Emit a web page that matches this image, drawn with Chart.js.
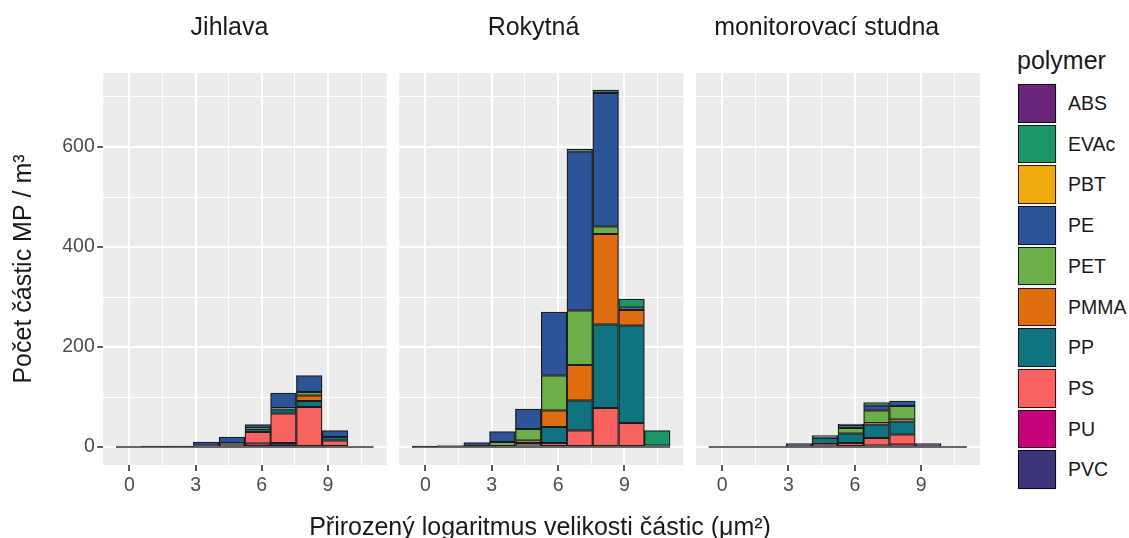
<!DOCTYPE html>
<html>
<head>
<meta charset="utf-8">
<script src="https://cdn.jsdelivr.net/npm/chart.js@4.4.1/dist/chart.umd.min.js"></script>
<style>
  html, body { margin: 0; padding: 0; background: #fff; }
  body { width: 1129px; height: 538px; position: relative; overflow: hidden;
         font-family: "Liberation Sans", Arial, sans-serif; color: #1a1a1a; }
  canvas { position: absolute; top: 0; }
  .txt { position: absolute; white-space: nowrap; font-size: 25px; line-height: 28px; }
  .strip { transform: translateX(-50%); }
  #keys { position: absolute; left: 1016.7px; top: 83px; width: 40px; height: 407px; background: #f2f2f2; }
  .key { position: absolute; left: 1px; width: 38px; height: 38.7px; box-sizing: border-box;
         border: 1px solid rgba(0,0,0,0.8); }
  .lab { position: absolute; left: 1068px; font-size: 19.5px; line-height: 38.7px; height: 38.7px; }
</style>
</head>
<body>
<canvas id="c1" width="395" height="538" style="left:0px"></canvas>
<canvas id="c2" width="300" height="538" style="left:390px"></canvas>
<canvas id="c3" width="300" height="538" style="left:686px"></canvas>

<div class="txt strip" style="left:229.5px;top:12.3px">Jihlava</div>
<div class="txt strip" style="left:533.5px;top:12.3px">Rokytná</div>
<div class="txt strip" style="left:826.7px;top:12.3px">monitorovací studna</div>
<div class="txt strip" style="left:540px;top:512.3px">Přirozený logaritmus velikosti částic (μm²)</div>

<div class="txt" style="left:1017px;top:45.5px">polymer</div>
<div id="keys"></div>
<div id="labels"></div>

<script>
// legend order (top of stack first, as in ggplot)
const polymers = ['ABS', 'EVAc', 'PBT', 'PE', 'PET', 'PMMA', 'PP', 'PS', 'PU', 'PVC'];
const colors = ['#6a247a', '#1b9668', '#eeaa0d', '#2b5499', '#6caf48', '#de6e10', '#0f7480', '#f8635f', '#c4007a', '#3b357c'];

// histogram bin centres, ln of particle size (um^2)
const binCenters = [-0.02, 1.15, 2.32, 3.48, 4.65, 5.82, 6.98, 8.15, 9.32, 10.48];
const xTicks = [0, 1.5, 3, 4.5, 6, 7.5, 9, 10.5];
const yTicks = [0, 100, 200, 300, 400, 500, 600, 700];

// counts per bin, particles / m3
const jihlava = {
  PE:   [0, 1, 1, 7, 12, 7, 30, 33, 13, 0],
  PET:  [0, 0, 0, 0, 0, 2, 3, 7, 0, 0],
  PMMA: [0, 0, 0, 0, 0, 0, 0, 11, 0, 0],
  PP:   [0, 0, 0, 0, 2, 6, 8, 12, 7, 0],
  PS:   [0, 0, 0, 0, 4, 23, 59, 80, 13, 0],
  PU:   [0, 0, 0, 0, 0, 7, 0, 0, 0, 0],
  PVC:  [0, 0, 0, 3, 2, 0, 8, 0, 0, 0]
};
const rokytna = {
  EVAc: [0, 0, 0, 0, 0, 0, 5, 6, 17, 30],
  PE:   [0, 0, 7, 21, 40, 127, 318, 267, 5, 0],
  PET:  [0, 0, 0, 10, 23, 70, 109, 15, 0, 0],
  PMMA: [0, 0, 0, 0, 5, 33, 71, 181, 31, 0],
  PP:   [0, 0, 2, 0, 5, 32, 60, 167, 195, 3],
  PS:   [0, 0, 0, 0, 3, 8, 33, 78, 48, 0],
  PVC:  [1, 3, 0, 0, 0, 0, 0, 0, 0, 0]
};
const studna = {
  ABS:  [0, 0, 0, 3, 0, 2, 0, 0, 3, 0],
  EVAc: [0, 0, 0, 0, 4, 6, 6, 0, 0, 0],
  PE:   [0, 0, 0, 0, 1, 0, 10, 10, 0, 0],
  PET:  [0, 0, 0, 0, 0, 11, 25, 27, 0, 0],
  PMMA: [0, 0, 0, 0, 0, 0, 3, 4, 0, 0],
  PP:   [0, 0, 0, 0, 12, 19, 27, 26, 0, 0],
  PS:   [0, 0, 0, 0, 6, 8, 15, 20, 0, 0],
  PU:   [0, 0, 0, 0, 0, 0, 0, 5, 0, 0],
  PVC:  [0, 0, 0, 4, 0, 0, 3, 0, 4, 0]
};

const FONT = '"Liberation Sans", Arial, sans-serif';

// grey panel background
const panelBg = {
  id: 'panelBg',
  beforeDraw(chart) {
    const { ctx, chartArea: a } = chart;
    ctx.save();
    ctx.fillStyle = '#ebebeb';
    ctx.fillRect(a.left, a.top, a.right - a.left, a.bottom - a.top);
    ctx.restore();
  }
};

// empty bins are still outlined along zero, like geom_histogram
const zeroLine = {
  id: 'zeroLine',
  afterDatasetsDraw(chart) {
    const { ctx, scales: { x, y } } = chart;
    const half = (binCenters[1] - binCenters[0]) / 2;
    const y0 = y.getPixelForValue(0);
    ctx.save();
    ctx.strokeStyle = 'rgba(0,0,0,0.8)';
    ctx.lineWidth = 1.6;
    ctx.beginPath();
    ctx.moveTo(x.getPixelForValue(binCenters[0] - half), y0);
    ctx.lineTo(x.getPixelForValue(binCenters[binCenters.length - 1] + half), y0);
    ctx.stroke();
    ctx.restore();
  }
};

function datasetsFor(counts) {
  // stack from the bottom: PVC first, ABS last
  return polymers.slice().reverse().map(p => {
    const vals = counts[p] || [];
    return {
      label: p,
      data: binCenters.map((x, i) => ({ x: x, y: vals[i] ? vals[i] : null })),
      backgroundColor: colors[polymers.indexOf(p)],
      borderColor: 'rgba(0,0,0,0.88)',
      borderWidth: 1.3,
      borderSkipped: false,
      barPercentage: 1,
      categoryPercentage: 1
    };
  });
}

function makePanel(id, counts, yWidth, padRight, showY) {
  const isMajorX = c => c.tick && c.tick.value % 3 === 0;
  const isMajorY = c => c.tick && c.tick.value % 200 === 0;
  return new Chart(document.getElementById(id), {
    type: 'bar',
    data: { datasets: datasetsFor(counts) },
    options: {
      responsive: false,
      animation: false,
      devicePixelRatio: 1,
      layout: { padding: { left: 0, right: padRight, top: 73, bottom: 0 } },
      plugins: { legend: { display: false }, tooltip: { enabled: false } },
      scales: {
        x: {
          type: 'linear', min: -1.18, max: 11.66, stacked: true, offset: false,
          afterBuildTicks: a => { a.ticks = xTicks.map(v => ({ value: v })); },
          afterFit: a => { a.height = 73; },
          border: { display: false },
          grid: {
            offset: false,
            color: '#ffffff',
            lineWidth: c => isMajorX(c) ? 2 : 1,
            tickColor: c => isMajorX(c) ? '#333333' : 'rgba(0,0,0,0)',
            tickLength: 6, tickWidth: 1.6
          },
          ticks: {
            autoSkip: false, maxRotation: 0, padding: 3,
            color: '#4d4d4d', font: { family: FONT, size: 19.5 },
            callback: v => v % 3 === 0 ? v : ''
          }
        },
        y: {
          type: 'linear', min: -36, max: 748, stacked: true,
          afterBuildTicks: a => { a.ticks = yTicks.map(v => ({ value: v })); },
          afterFit: a => { a.width = yWidth; },
          border: { display: false },
          grid: {
            color: '#ffffff',
            lineWidth: c => isMajorY(c) ? 2 : 1,
            tickColor: c => isMajorY(c) ? '#333333' : 'rgba(0,0,0,0)',
            tickLength: 6, tickWidth: 1.6,
            drawTicks: showY
          },
          ticks: {
            display: showY, padding: 2.5,
            color: '#4d4d4d', font: { family: FONT, size: 19.5 },
            callback: v => v % 200 === 0 ? v : ''
          },
          title: {
            display: showY, text: 'Počet částic MP / m³', color: '#1a1a1a',
            font: { family: FONT, size: 25 }, padding: { top: 9.5, bottom: 0 }
          }
        }
      }
    },
    plugins: [panelBg, zeroLine]
  });
}

makePanel('c1', jihlava, 103.3, 8.3, true);
makePanel('c2', rokytna, 9.3, 6.7, false);
makePanel('c3', studna, 10, 6, false);

// legend keys
const keys = document.getElementById('keys');
const labels = document.getElementById('labels');
polymers.forEach((p, i) => {
  const k = document.createElement('div');
  k.className = 'key';
  k.style.top = (1 + i * 40.7) + 'px';
  k.style.background = colors[i];
  keys.appendChild(k);
  const l = document.createElement('div');
  l.className = 'lab';
  l.style.top = (84 + i * 40.7) + 'px';
  l.textContent = p;
  labels.appendChild(l);
});
</script>
</body>
</html>
